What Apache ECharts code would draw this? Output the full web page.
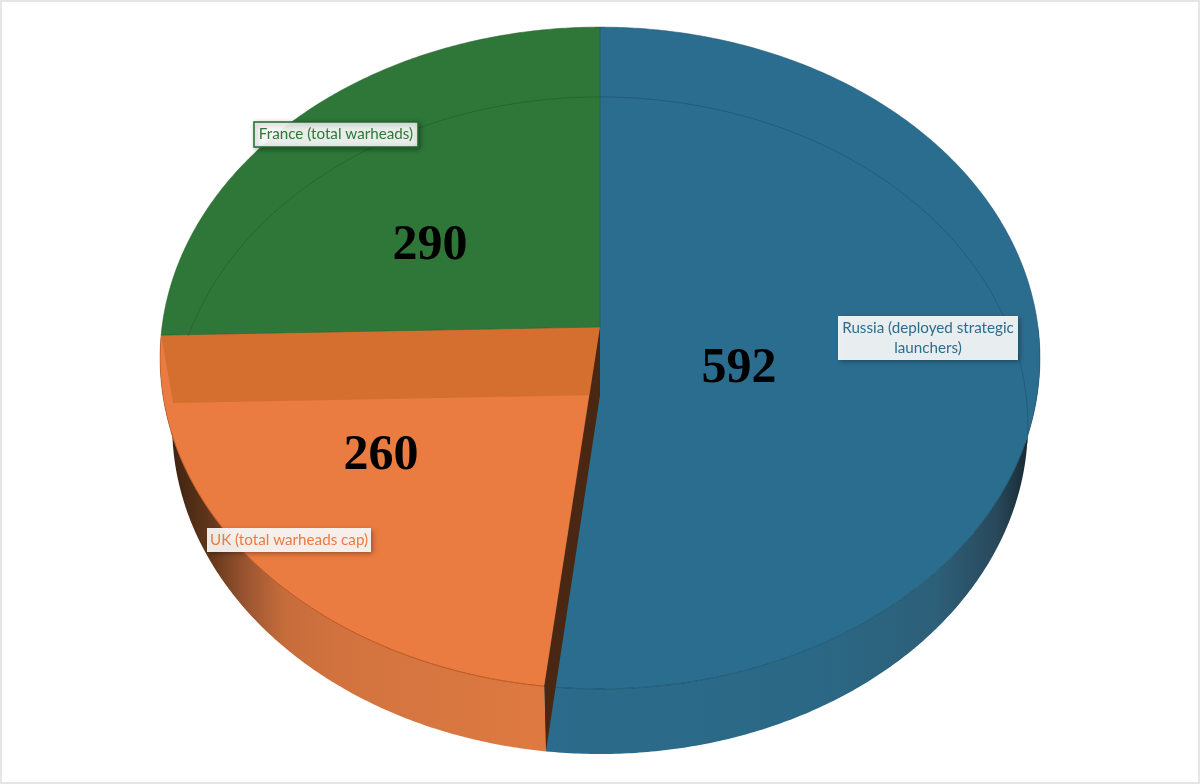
<!DOCTYPE html>
<html>
<head>
<meta charset="utf-8">
<title>Warheads pie</title>
<script src="https://cdn.jsdelivr.net/npm/echarts@6/dist/echarts.min.js"></script>
<style>
  html, body { margin: 0; padding: 0; background: #fff; }
  #chart { width: 1200px; height: 784px; }
</style>
</head>
<body>
<div id="chart"></div>
<script>
// clockwise from 12 o'clock
const categories = ['Russia (deployed strategic launchers)', 'UK (total warheads cap)', 'France (total warheads)']
const values = [592, 260, 290]

const colors = ['#2b6d8e', '#ea7b41', '#2e7739']
const rimColors = ['#1d5470', '#b9531f', '#235f2c']
// label boxes and big numbers, per slice
const boxes = [
  { x: 838, y: 316, w: 180, h: 44, lines: ['Russia (deployed strategic', 'launchers)'] },
  { x: 207, y: 528, w: 164, h: 24, lines: ['UK (total warheads cap)'] },
  { x: 254, y: 122, w: 164, h: 25, lines: ['France (total warheads)'], border: '#1f6a2b' }
]
const numberAt = [[739, 369], [381, 456], [430, 246]]

// the disc is seen in perspective, so top and bottom planes are two projections
const topPlane = { cx: 600, cy: 327, a: 438, b: 328, k: 0.0937 }
const lowPlane = { cx: 600, cy: 395, a: 426, b: 325.7, k: 0.0928 }

function project(plane, deg) {
  const t = deg * Math.PI / 180
  const x = Math.sin(t)
  const y = Math.cos(t)
  const w = 1 + plane.k * y
  return [plane.cx + plane.a * x / w, plane.cy - plane.b * y / w]
}

function arc(plane, from, to) {
  const pts = []
  const n = Math.max(2, Math.ceil(Math.abs(to - from) * 2))
  for (let i = 0; i <= n; i++) {
    pts.push(project(plane, from + (to - from) * i / n))
  }
  return pts
}

const total = values.reduce((a, b) => a + b, 0)
function sliceRange(index) {
  let before = 0
  for (let i = 0; i < index; i++) before += values[i]
  return [before / total * 360, (before + values[index]) / total * 360]
}

function wallFill(index) {
  if (index === 0) {
    return new echarts.graphic.LinearGradient(546, 0, 1035, 0, [
      { offset: 0, color: '#2b6b8b' },
      { offset: 0.55, color: '#2b6885' },
      { offset: 0.8, color: '#2d5f78' },
      { offset: 0.92, color: '#29495c' },
      { offset: 1, color: '#14222b' }
    ], true)
  }
  return new echarts.graphic.LinearGradient(170, 0, 546, 0, [
    { offset: 0, color: '#3d2212' },
    { offset: 0.1, color: '#5f3519' },
    { offset: 0.2, color: '#9a5430' },
    { offset: 0.3, color: '#c46c3b' },
    { offset: 0.45, color: '#d2733f' },
    { offset: 1, color: '#de7a41' }
  ], true)
}

function renderSlice(params, api) {
  const i = params.dataIndex
  const [start, end] = sliceRange(i)
  const apexTop = [topPlane.cx, topPlane.cy]
  const apexLow = [lowPlane.cx, lowPlane.cy]
  const children = []

  // outer wall, only Russia and UK reach the front of the disc
  if (i < 2) {
    const wallFrom = Math.max(start, 90)
    children.push({
      type: 'polygon',
      shape: { points: arc(topPlane, wallFrom, end).concat(arc(lowPlane, end, wallFrom)) },
      style: { fill: wallFill(i) }
    })
  }

  // top face
  children.push({
    type: 'polygon',
    shape: { points: [apexTop].concat(arc(topPlane, start, end)) },
    style: { fill: colors[i], stroke: rimColors[i], lineWidth: 0.5 }
  })

  // UK: cut faces seen through the slice
  if (i === 1) {
    children.push({
      type: 'polygon',
      shape: { points: [apexTop, project(topPlane, end), project(lowPlane, end), apexLow] },
      style: { fill: '#d56f2f' }
    })
    children.push({
      type: 'polyline',
      shape: { points: arc(topPlane, start, 252) },
      style: { fill: null, stroke: rimColors[i], lineWidth: 0.8 }
    })
    children.push({
      type: 'polygon',
      shape: { points: [apexTop, project(topPlane, start), project(lowPlane, start), apexLow] },
      style: { fill: '#4a2713' }
    })
  }

  // thin rim lines
  if (i === 0) {
    children.push({
      type: 'polyline',
      shape: { points: arc(topPlane, 110, end) },
      style: { fill: null, stroke: rimColors[i], lineWidth: 0.7 }
    })
    children.push({
      type: 'polyline',
      shape: { points: arc(lowPlane, start, 98.4) },
      style: { fill: null, stroke: rimColors[i], lineWidth: 0.7 }
    })
  }
  if (i === 2) {
    // the far rim stops where it meets the UK cut
    children.push({
      type: 'polyline',
      shape: { points: arc(lowPlane, 280.7, end) },
      style: { fill: null, stroke: rimColors[i], lineWidth: 0.7 }
    })
  }

  // big number
  children.push({
    type: 'text',
    x: numberAt[i][0],
    y: numberAt[i][1],
    style: {
      text: String(api.value(0)),
      fill: '#000',
      font: 'bold 50px "Liberation Serif"',
      align: 'center',
      verticalAlign: 'middle'
    }
  })

  return { type: 'group', children: children }
}

// labels sit above every slice, so they get their own series
function renderLabel(params, api) {
  const i = params.dataIndex
  const box = boxes[i]
  const children = [{
    type: 'rect',
    shape: { x: box.x, y: box.y, width: box.w, height: box.h },
    style: {
      fill: 'rgba(255,255,255,0.9)',
      stroke: box.border || null,
      lineWidth: box.border ? 1.5 : 0,
      shadowBlur: 5,
      shadowOffsetX: 1.5,
      shadowOffsetY: 1.5,
      shadowColor: 'rgba(0,0,0,0.4)'
    }
  }]
  const lineH = 20
  const firstY = box.y + box.h / 2 - (box.lines.length - 1) * lineH / 2
  box.lines.forEach((line, n) => {
    children.push({
      type: 'text',
      x: box.x + box.w / 2,
      y: firstY + n * lineH,
      style: {
        text: line,
        fill: colors[i],
        font: '15.2px Lato',
        align: 'center',
        verticalAlign: 'middle'
      }
    })
  })
  return { type: 'group', children: children }
}

const chartData = categories.map((name, i) => ({ name: name, value: [values[i]] }))

const myChart = echarts.init(document.getElementById('chart'), null, { renderer: 'canvas' })
myChart.setOption({
  animation: false,
  backgroundColor: '#fff',
  graphic: [{
    type: 'rect',
    shape: { x: 1, y: 1, width: 1198, height: 782 },
    style: { fill: null, stroke: '#e6e6e6', lineWidth: 2 },
    silent: true
  }],
  series: [
    { type: 'custom', coordinateSystem: 'none', renderItem: renderSlice, data: chartData, silent: true, z: 2 },
    { type: 'custom', coordinateSystem: 'none', renderItem: renderLabel, data: chartData, silent: true, z: 3 }
  ]
})
</script>
</body>
</html>
